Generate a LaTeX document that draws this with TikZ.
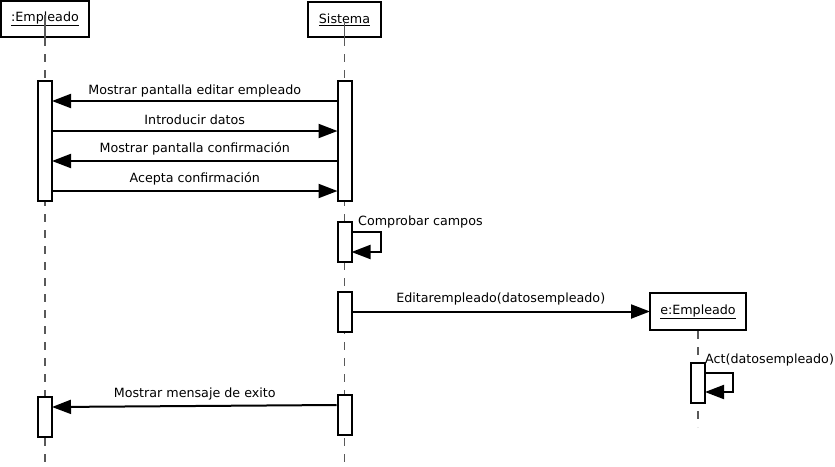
\documentclass[tikz,border=0pt]{standalone}
\usepackage{fontspec}
\setmainfont{DejaVu Sans}
\usetikzlibrary{arrows.meta}
\begin{document}
\begin{tikzpicture}[x=1pt,y=-1pt,
  head/.style={draw,line width=2pt,fill=white,inner sep=0pt,font=\fontsize{12.7}{14}\selectfont},
  act/.style={draw,line width=2pt,fill=white,minimum width=14pt,inner sep=0pt},
  life/.style={draw=black!65,line width=1.5pt,dash pattern=on 8pt off 8pt},
  msg/.style={line width=2pt,shorten >=-1pt,-{Triangle[length=19pt,width=14pt]}},
  lbl/.style={font=\fontsize{12.7}{14}\selectfont,inner sep=1pt}
]
\useasboundingbox (0,0) rectangle (835,466);
% heads
\node[head,minimum width=88pt,minimum height=36pt] (eh) at (45,19) {\underline{:Empleado}};
\node[head,minimum width=73pt,minimum height=35pt] (sh) at (344.5,19.5) {\underline{Sistema}};
% lifelines
\draw[life] (eh.south) -- (45,462);
\draw[life] (sh.south) -- (344.5,462);
\draw[black!65,line width=1.3pt] (45,15) -- (eh.south);
\draw[black!65,line width=1.3pt] (344.5,22) -- (sh.south);
% activations
\node[act,minimum height=120pt] (ea1) at (45,141) {};
\node[act,minimum height=120pt] (sa1) at (344.5,141) {};
\node[act,minimum height=40pt] (sa2) at (344.5,242) {};
\node[act,minimum height=40pt] (sa3) at (344.5,312) {};
\node[act,minimum height=40pt] (sa4) at (344.5,415) {};
\node[act,minimum height=40pt] (ea2) at (45,417) {};
% created object
\node[head,minimum width=96pt,minimum height=37pt] (xh) at (698,311.5) {\underline{e:Empleado}};
\draw[life] (xh.south) -- (698,427);
\node[act,minimum height=40pt] (xa1) at (698,383) {};
% messages
\draw[msg] (sa1.west |- 0,101) -- node[lbl,above=2pt] {Mostrar pantalla editar empleado} (ea1.east |- 0,101);
\draw[msg] (ea1.east |- 0,131) -- node[lbl,above=4pt] {Introducir datos} (sa1.west |- 0,131);
\draw[msg] (sa1.west |- 0,161) -- node[lbl,above=4pt] {Mostrar pantalla confirmación} (ea1.east |- 0,161);
\draw[msg] (ea1.east |- 0,191) -- node[lbl,above=4pt] {Acepta confirmación} (sa1.west |- 0,191);
% self message comprobar
\coordinate (c1) at (381,232);
\coordinate (c2) at (381,252);
\draw[msg] (sa2.east |- c1) -- (c1) -- (c2) -- (sa2.east |- c2);
\node[lbl,anchor=west] (lc) at (357,222) {Comprobar campos};
% create message
\draw[msg] (sa3.east |- 0,311.5) -- node[lbl,above=4pt] {Editarempleado(datosempleado)} (xh.west);
% self message act
\coordinate (d1) at (733,373);
\coordinate (d2) at (733,392);
\draw[msg] (xa1.east |- d1) -- (d1) -- (d2) -- (xa1.east |- d2);
\node[lbl,anchor=west] (la) at (704,360) {Act(datosempleado)};
% exito
\draw[msg] (sa4.west |- 0,405) -- node[lbl,above=4pt] {Mostrar mensaje de exito} (ea2.east |- 0,407);
\end{tikzpicture}
\end{document}
